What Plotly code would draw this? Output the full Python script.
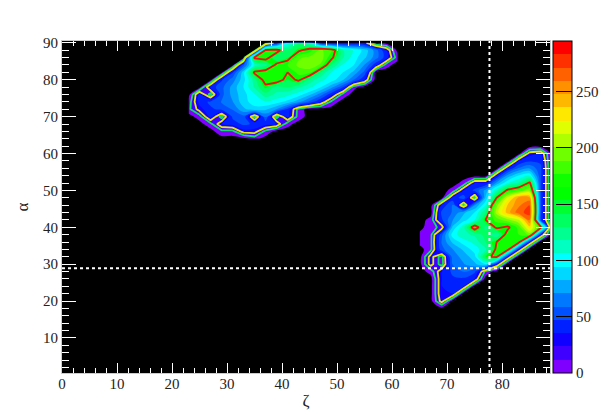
"""Density map of alpha against zeta, two islands with contour lines."""

import numpy as np
import plotly.graph_objects as go

n = -5  # empty cell, shows as black

# upper island
top_x = [23, 25, 27, 29, 31, 33, 35, 37, 39, 41, 43, 45, 47, 49, 51, 53, 55, 57, 59, 61]
top_y = [90, 88, 86, 84, 82, 80, 78, 76, 74, 72, 70, 68, 66, 64]
top_z = [
    [n, n, n, n, n, n, n, n, 35, 100, 130, 110, 35, 30, 30, 30, 30, n, n, n],
    [n, n, n, n, n, n, n, 155, 160, 130, 145, 160, 180, 165, 120, 105, 90, 65, 35, n],
    [n, n, n, n, n, n, 155, 160, 130, 140, 175, 180, 185, 155, 120, 100, 85, 65, 40, 4],
    [n, n, n, n, n, 55, 110, 125, 155, 165, 180, 185, 175, 130, 105, 95, 70, 40, 4, n],
    [n, n, n, n, 45, 90, 155, 160, 160, 150, 170, 170, 130, 105, 95, 80, 55, n, n, n],
    [n, n, n, 45, 65, 90, 125, 160, 165, 140, 155, 125, 110, 100, 85, 60, 35, n, n, n],
    [n, n, 40, 55, 75, 95, 120, 145, 125, 130, 120, 110, 95, 75, 50, 4, n, n, n, n],
    [n, 40, 5, 55, 75, 90, 105, 125, 115, 110, 100, 85, 65, 38, 8, n, n, n, n, n],
    [4, 40, 50, 60, 70, 90, 100, 105, 100, 90, 75, 55, 35, 8, n, n, n, n, n, n],
    [8, 30, 45, 50, 60, 80, 90, 85, 70, 45, 6, n, n, n, n, n, n, n, n, n],
    [n, 6, 40, 5, 50, 55, 5, 60, 5, 40, 6, n, n, n, n, n, n, n, n, n],
    [n, n, 8, 35, 40, 50, 45, 40, 35, 4, n, n, n, n, n, n, n, n, n, n],
    [n, n, n, 8, 8, 30, 30, 8, n, n, n, n, n, n, n, n, n, n, n, n],
    [n, n, n, n, n, n, 4, n, n, n, n, n, n, n, n, n, n, n, n, n],
]

# lower island
low_x = [65, 67, 69, 71, 73, 75, 77, 79, 81, 83, 85, 87, 89]
low_y = [62, 60, 58, 56, 54, 52, 50, 48, 46, 44, 42, 40, 38, 36, 34, 32, 30, 28, 26, 24, 22, 20, 18]
low_z = [
    [n, n, n, n, n, n, n, n, n, n, n, n, n],
    [n, n, n, n, n, n, n, n, n, n, 30, 35, n],
    [n, n, n, n, n, n, n, n, n, 35, 45, 45, n],
    [n, n, n, n, n, n, n, n, 35, 60, 70, 50, n],
    [n, n, n, n, n, n, n, 35, 75, 95, 105, 50, n],
    [n, n, n, n, 4, 35, 35, 75, 105, 120, 155, 50, n],
    [n, n, n, 4, 35, 50, 75, 115, 155, 170, 185, 50, n],
    [n, n, n, 38, 55, 5, 85, 150, 205, 240, 240, 50, n],
    [n, n, 38, 60, 5, 70, 105, 185, 225, 245, 260, 50, n],
    [n, n, 50, 60, 80, 95, 130, 195, 230, 255, 265, 50, n],
    [n, 4, 45, 70, 90, 105, 150, 170, 185, 200, 250, 50, n],
    [n, 8, 15, 85, 115, 165, 125, 155, 145, 170, 220, 160, n],
    [4, 8, 55, 100, 115, 120, 135, 120, 160, 165, 180, 35, n],
    [4, 8, 60, 85, 100, 110, 130, 150, 160, 160, 35, n, n],
    [n, 8, 55, 70, 85, 100, 115, 155, 160, 35, n, n, n],
    [n, 30, 5, 65, 75, 90, 145, 155, 35, n, n, n, n],
    [n, 30, 5, 60, 70, 80, 95, 35, n, n, n, n, n],
    [n, 4, 35, 50, 60, 50, 8, n, n, n, n, n, n],
    [n, n, 35, 45, 45, 35, n, n, n, n, n, n, n],
    [n, n, 35, 45, 35, n, n, n, n, n, n, n, n],
    [n, n, 35, 35, n, n, n, n, n, n, n, n, n],
    [n, n, 30, n, n, n, n, n, n, n, n, n, n],
    [n, n, n, n, n, n, n, n, n, n, n, n, n],
]

contour_levels = [12, 24, 150]
contour_colors = ["#10e060", "#e8e800", "#f01010"]
band_colors = [
    "#8000ff", "#4000ff", "#1000ff", "#0020ff", "#0050ff", "#0078ff", "#00a8ff",
    "#00d8ff", "#00ffff", "#00ffc0", "#00ff90", "#00ff60", "#00ff30", "#00ff00",
    "#10ff00", "#40ff00", "#70ff00", "#b0ff00", "#e0ff00", "#ffe800", "#ffb800",
    "#ff9000", "#ff6000", "#ff3000", "#ff0000",
]
colorbar_ticks = [0, 50, 100, 150, 200, 250]
guide_x = 77.7
guide_y = 28.9
x_range = [0, 88.7]
y_range = [0.5, 90.5]

FONT = "Liberation Serif"
INK = "#222"
TOP = 295
STEP = TOP / len(band_colors)


def hard_scale(colors):
    """Colorscale with sharp stops, one flat band per color."""
    stops = []
    for i, c in enumerate(colors):
        stops.append([i / len(colors), c])
        stops.append([(i + 1) / len(colors), c])
    return stops


# contour fills stretch the scale over start..end plus one band, so black sits
# in the band below zero and red is repeated at the top
fill_scale = hard_scale(["#000000"] + band_colors + ["#ff0000"])

fig = go.Figure()

for xs, ys, zs in [(top_x, top_y, top_z), (low_x, low_y, low_z)]:
    z = np.array(zs, dtype=float)
    fig.add_trace(go.Contour(
        x=xs, y=ys, z=z,
        zmin=-STEP, zmax=TOP,
        colorscale=fill_scale,
        autocontour=False,
        contours=dict(start=-STEP, end=TOP + 1, size=STEP, coloring="fill", showlines=False),
        line_width=0,
        showscale=False,
    ))
    for level, color in zip(contour_levels, contour_colors):
        fig.add_trace(go.Contour(
            x=xs, y=ys, z=z,
            autocontour=False,
            contours=dict(start=level, end=level, size=1, coloring="none"),
            line=dict(color=color, width=1.8, smoothing=0),
            showscale=False,
        ))

# colorbar only, no visible points
fig.add_trace(go.Scatter(
    x=[None, None], y=[None, None], mode="markers",
    marker=dict(
        color=[0, TOP], cmin=0, cmax=TOP,
        colorscale=hard_scale(band_colors),
        showscale=True,
        colorbar=dict(
            x=1.006, xanchor="left", xpad=0, y=0, yanchor="bottom",
            len=1, ypad=0, thickness=19,
            tickmode="array", tickvals=colorbar_ticks,
            ticks="inside", ticklen=16, tickcolor="black", tickwidth=1,
            outlinewidth=1, outlinecolor="black",
            tickfont=dict(family=FONT, size=15, color=INK),
        ),
    ),
))

# dotted guide lines
dash_line = dict(color="white", width=2, dash="3px,3px")
fig.add_trace(go.Scatter(x=[guide_x, guide_x], y=y_range, mode="lines", line=dash_line))
fig.add_trace(go.Scatter(x=x_range, y=[guide_y, guide_y], mode="lines", line=dash_line))

fig.update_xaxes(
    range=x_range, automargin=False,
    title=dict(text="ζ", font=dict(family=FONT, size=17, color=INK), standoff=3),
    tick0=0, dtick=10, ticks="inside", ticklen=10, tickcolor="white", tickwidth=1,
    ticklabelstandoff=-3,
    minor=dict(dtick=2, tick0=0, ticks="inside", ticklen=5, tickcolor="white", tickwidth=1),
    showgrid=False, zeroline=False, showline=True, linecolor="#ccc", linewidth=1, mirror="allticks",
    tickfont=dict(family=FONT, size=15, color=INK),
)
fig.update_yaxes(
    range=y_range, automargin=False,
    title=dict(text="α", font=dict(family=FONT, size=17, color=INK), standoff=10),
    tick0=0, dtick=10, ticks="inside", ticklen=14, tickcolor="white", tickwidth=1,
    minor=dict(dtick=2, tick0=0, ticks="inside", ticklen=7, tickcolor="white", tickwidth=1),
    showgrid=False, zeroline=False, showline=True, linecolor="#ccc", linewidth=1, mirror="allticks",
    tickfont=dict(family=FONT, size=15, color=INK),
)
# page body adds an 8px offset, so the figure is drawn 8px smaller
fig.update_layout(
    width=605, height=407,
    margin=dict(l=54, r=63, t=33, b=42, autoexpand=False),
    plot_bgcolor="black", paper_bgcolor="white",
    showlegend=False,
)

fig.write_html("out.html")
